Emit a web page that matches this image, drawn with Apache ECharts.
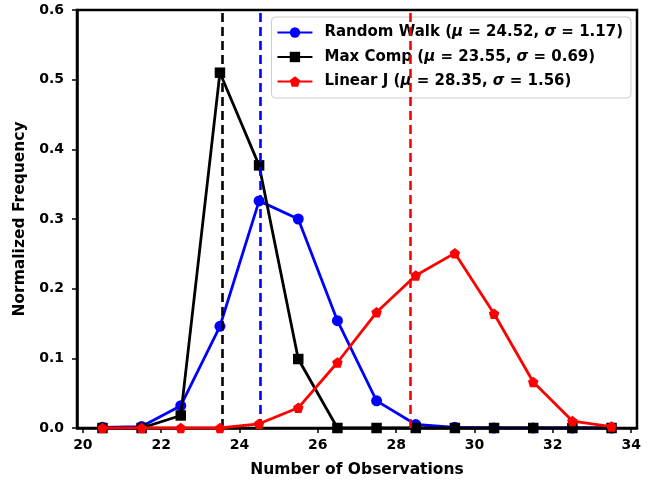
<!DOCTYPE html>
<html><head><meta charset="utf-8">
<script src="https://cdn.jsdelivr.net/npm/echarts@6/dist/echarts.min.js"></script>
<style>html,body{margin:0;padding:0;background:#fff}#c{width:659px;height:483px}</style>
</head><body><div id="c"></div>
<script>
const xVals = [20.5,21.5,22.5,23.5,24.5,25.5,26.5,27.5,28.5,29.5,30.5,31.5,32.5,33.5];
const randomWalk = [0.001,0.002,0.032,0.146,0.326,0.300,0.154,0.039,0.005,0.001,0,0,0,0];
const maxComp = [0,0,0.018,0.510,0.377,0.099,0,0,0,0,0,0,0,0];
const linearJ = [0,0,0,0,0.006,0.029,0.094,0.166,0.219,0.251,0.164,0.066,0.010,0.002];
const seriesNames = ['Random Walk','Max Comp','Linear J'];
const means = [24.52,23.55,28.35];
const sigmas = [1.17,0.69,1.56];
const colors = ['#0000ff','#000000','#ff0000'];
const xTicks = [20,22,24,26,28,30,32,34];
const xLabel = 'Number of Observations';
const yLabel = 'Normalized Frequency';

const FONT = 'DejaVu Sans';
const pentagon = 'path://M0,-1 L0.951,-0.309 L0.588,0.809 L-0.588,0.809 L-0.951,-0.309 Z';
const symbols = ['circle','rect',pentagon];
const symSizes = [11,10.5,10.5];
const values = [randomWalk, maxComp, linearJ];

const series = [];
// vertical mean lines (drawn first, below data), one series each
for (let i = 0; i < 3; i++) {
  series.push({
    type: 'line', name: 'mean_' + seriesNames[i], silent: true, data: [], z: 1,
    markLine: {
      silent: true, symbol: ['none', 'none'], animation: false,
      label: { show: false },
      lineStyle: { color: colors[i], width: 2.6, type: [9, 5], cap: 'butt', opacity: 1 },
      data: [{ xAxis: means[i] }]
    }
  });
}
for (let i = 0; i < 3; i++) {
  series.push({
    type: 'line', name: seriesNames[i], z: 3 + i,
    data: xVals.map((x, k) => [x, values[i][k]]),
    symbol: symbols[i], symbolSize: symSizes[i], showAllSymbol: true,
    itemStyle: { color: colors[i] },
    lineStyle: { color: colors[i], width: 2.8 }
  });
}

const fmt = {};
seriesNames.forEach((n, i) => {
  fmt[n] = '{b|' + n + ' (}{i|μ}{b| = ' + means[i].toFixed(2) + ', }{i|σ}{b| = ' + sigmas[i].toFixed(2) + ')}';
});

const chart = echarts.init(document.getElementById('c'));
chart.setOption({
  animation: false,
  grid: { left: 77, right: 22, top: 10, bottom: 54, show: true, borderColor: '#000', borderWidth: 2.5, backgroundColor: 'transparent' },
  xAxis: {
    type: 'value', min: 19.85, max: 34.15,
    axisLine: { show: true, lineStyle: { color: '#000', width: 2.5 } },
    axisTick: { show: true, customValues: xTicks, length: 5, lineStyle: { color: '#000', width: 1.5 } },
    axisLabel: { customValues: xTicks, color: '#000', fontFamily: FONT, fontWeight: 'bold', fontSize: 14, margin: 10 },
    splitLine: { show: false },
    name: xLabel, nameLocation: 'middle', nameGap: 34,
    nameTextStyle: { color: '#000', fontFamily: FONT, fontWeight: 'bold', fontSize: 15.5 }
  },
  yAxis: {
    type: 'value', min: 0, max: 0.6, interval: 0.1,
    axisLine: { show: true, lineStyle: { color: '#000', width: 2.5 } },
    axisTick: { show: true, length: 5, lineStyle: { color: '#000', width: 1.5 } },
    axisLabel: { color: '#000', fontFamily: FONT, fontWeight: 'bold', fontSize: 14, margin: 13, formatter: v => v.toFixed(1) },
    splitLine: { show: false },
    name: yLabel, nameLocation: 'middle', nameGap: 48,
    nameTextStyle: { color: '#000', fontFamily: FONT, fontWeight: 'bold', fontSize: 15.5 }
  },
  legend: {
    data: seriesNames, orient: 'vertical', right: 28, top: 17,
    itemWidth: 35, itemHeight: 13, itemGap: 9.5,
    backgroundColor: 'rgba(255,255,255,0.85)', borderColor: '#cccccc', borderWidth: 1, borderRadius: 4,
    padding: [8, 8, 9, 5],
    formatter: n => fmt[n],
    textStyle: {
      color: '#000', fontFamily: FONT, padding: [0, 0, 0, 7],
      rich: {
        b: { fontFamily: FONT, fontWeight: 'bold', fontSize: 15, lineHeight: 18, color: '#000' },
        i: { fontFamily: FONT, fontWeight: 'bold', fontStyle: 'italic', fontSize: 15, lineHeight: 18, color: '#000' }
      }
    }
  },
  series: series
});
</script></body></html>
